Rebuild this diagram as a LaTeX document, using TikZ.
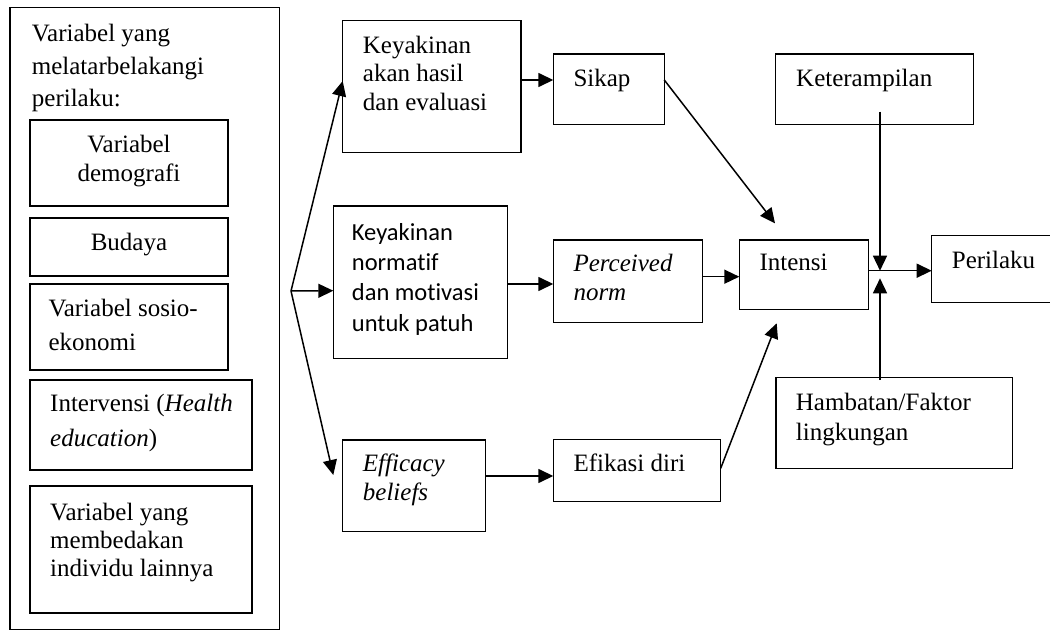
\documentclass[tikz,border=0pt]{standalone}
\usepackage{fontspec}
\setmainfont{Liberation Serif}
\newfontfamily\calibrifont[Ligatures={NoCommon}]{Carlito}
\usetikzlibrary{arrows.meta,fit}
\begin{document}
\begin{tikzpicture}[x=1pt,y=-1pt,
  box/.style={draw, line width=1.5pt, inner sep=0pt, outer sep=0pt},
  st/.style={anchor=base west, inner sep=0pt, font=\fontsize{25}{29}\selectfont},
  sc/.style={st, anchor=base},
  ss/.style={anchor=base west, inner sep=0pt, font=\calibrifont\fontsize{24.5}{29}\selectfont},
  arr/.style={line width=1.5pt, -{Triangle[length=15pt,width=14pt]}},
  ln/.style={line width=1.5pt}]
\useasboundingbox (0,0) rectangle (1050,631);
% ---- left column ----
\node[box, fit={(10,7.3) (279.3,629.5)}] (outer) {};
\node[st] (o1) at (31.7,41.7) {Variabel yang};
\node[st] (o2) at (31.7,75) {melatarbelakangi};
\node[st] (o3) at (31.7,107) {perilaku:};
\node[box, fit={(30,120) (228,206)}] (demo) {};
\node[sc] (d1) at (129,153) {Variabel};
\node[sc] (d2) at (129,181.7) {demografi};
\node[box, fit={(30,218) (228,276)}] (budaya) {};
\node[sc] (b1) at (129,250.7) {Budaya};
\node[box, fit={(30,284) (228,370)}] (sosio) {};
\node[st] (s1) at (48.3,316.7) {Variabel sosio-};
\node[st] (s2) at (48.3,350) {ekonomi};
\node[box, fit={(30,380) (252,470)}] (interv) {};
\node[st] (i1) at (50,411.7) {Intervensi (\textit{Health}};
\node[st] (i2) at (50,446.7) {\textit{education})};
\node[box, fit={(30,486) (252,613)}] (indiv) {};
\node[st] (v1) at (50,520) {Variabel yang};
\node[st] (v2) at (50,548.3) {membedakan};
\node[st] (v3) at (50,576.7) {individu lainnya};
% ---- middle column ----
\node[box, fit={(342.7,20.7) (521,152.7)}] (hasil) {};
\node[st] (h1) at (362.7,53.3) {Keyakinan};
\node[st] (h2) at (362.7,81.7) {akan hasil};
\node[st] (h3) at (362.7,110.7) {dan evaluasi};
\node[box, fit={(333.3,206) (507.7,358.7)}] (norm) {};
\node[ss] (n1) at (351.7,240.7) {Keyakinan};
\node[ss] (n2) at (351.7,270) {normatif};
\node[ss] (n3) at (351.7,300.5) {dan motivasi};
\node[ss] (n4) at (351.7,331) {untuk patuh};
\node[box, fit={(342.7,440) (485.3,531.7)}] (effb) {};
\node[st] (e1) at (362.7,471.7) {\textit{Efficacy}};
\node[st] (e2) at (362.7,500) {\textit{beliefs}};
% ---- third column ----
\node[box, fit={(553.3,54) (664.3,124.3)}] (sikap) {};
\node[st] (k1) at (573.3,86.7) {Sikap};
\node[box, fit={(553.3,240) (702.7,322.3)}] (perc) {};
\node[st] (p1) at (573.3,271.7) {\textit{Perceived}};
\node[st] (p2) at (573.3,300.7) {\textit{norm}};
\node[box, fit={(553.3,439.3) (720.7,501.7)}] (efik) {};
\node[st] (f1) at (573.3,471.7) {Efikasi diri};
% ---- right ----
\node[box, fit={(739.3,240) (868.3,309.3)}] (intensi) {};
\node[st] (t1) at (759.3,271) {Intensi};
\node[box, fit={(775.7,54) (973.3,124.3)}] (keter) {};
\node[st] (r1) at (796,86.7) {Keterampilan};
\node[box, fit={(931.7,235.7) (1062,302.7)}] (perilaku) {};
\node[st] (l1) at (951.7,268.3) {Perilaku};
\node[box, fit={(776,377.7) (1012.3,468.3)}] (hamb) {};
\node[st] (m1) at (795.7,410) {Hambatan/Faktor};
\node[st] (m2) at (795.7,440.7) {lingkungan};
% ---- connectors ----
\coordinate (J) at (291,291);
\coordinate (effTip) at (333.3,475);
\coordinate (sikapTip) at (775,223.3);
\coordinate (efikTip) at (776.7,323.3);
\coordinate (keterStart) at (880,111.7);
\coordinate (hambStart) at (880,380);
\coordinate (upTip) at (880,278.3);
\coordinate (downTip) at (880,270.7);
\draw[arr] (J) -- (hasil.west |- 0,81);
\draw[arr] (J) -- (norm.west |- 0,290.7);
\draw[arr] (J) -- (effTip);
\draw[arr] (hasil.east |- 0,80) -- (sikap.west |- 0,80);
\draw[arr] (norm.east |- 0,284) -- (perc.west |- 0,284);
\draw[arr] (effb.east |- 0,476) -- (efik.west |- 0,476);
\draw[arr] (sikap.east |- 0,80) -- (sikapTip);
\draw[arr] (perc.east |- 0,276.7) -- (intensi.west |- 0,276.7);
\draw[arr] (efik.east |- 0,468.3) -- (efikTip);
\draw[arr] (intensi.east |- 0,270.7) -- (perilaku.west |- 0,270.7);
\draw[arr] (keterStart) -- (downTip);
\draw[arr] (hambStart) -- (upTip);
\end{tikzpicture}
\end{document}
